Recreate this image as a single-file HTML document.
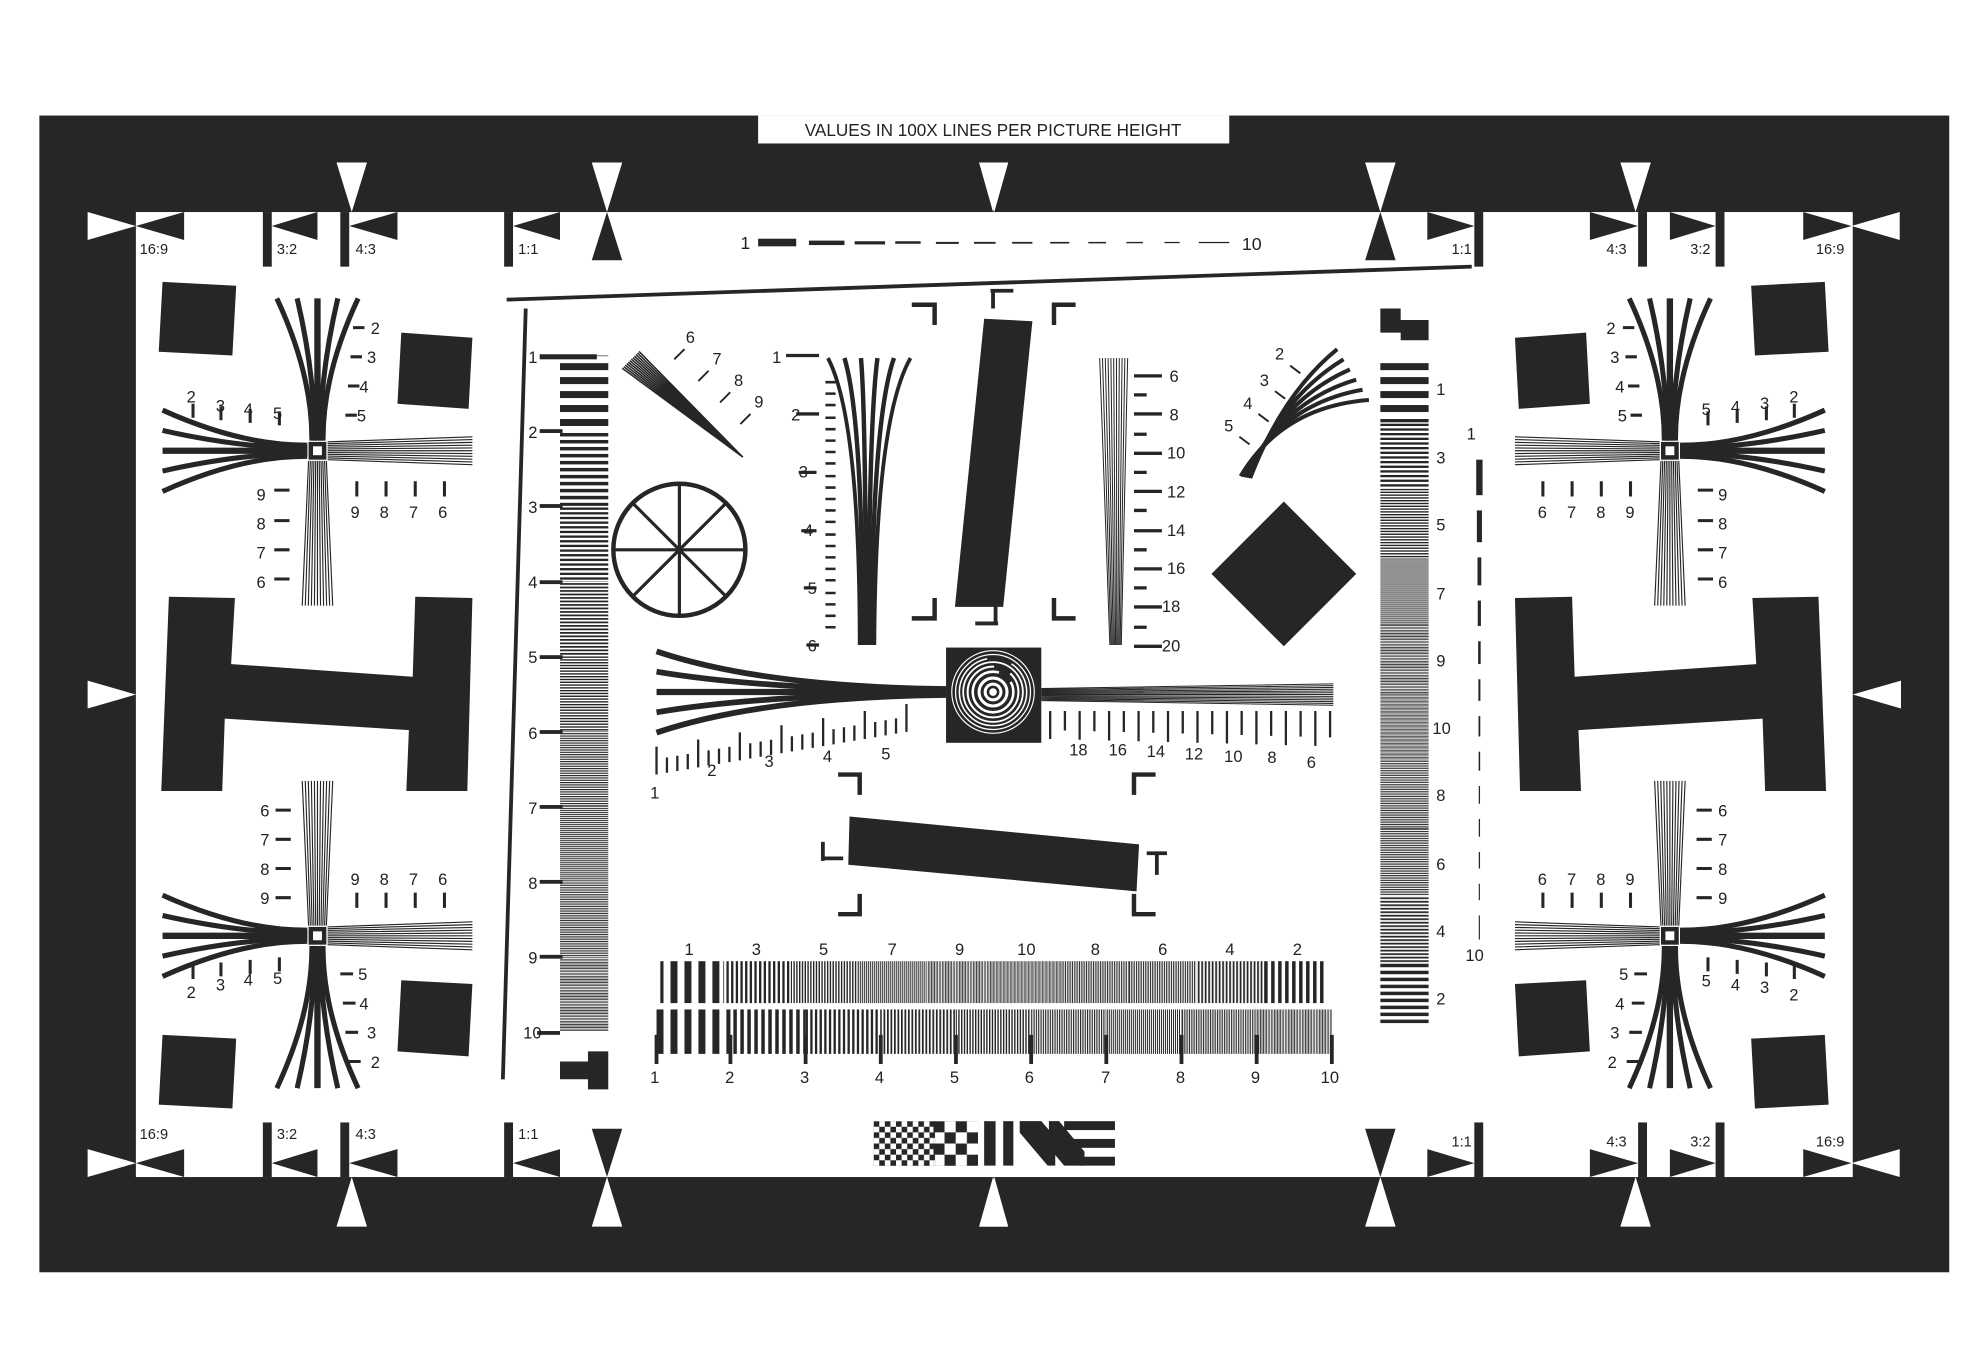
<!DOCTYPE html>
<html><head><meta charset="utf-8"><style>
html,body{margin:0;padding:0;background:#fff}
svg{display:block}
text{font-family:"Liberation Sans",sans-serif;fill:#222}
</style></head><body>
<svg width="1981" height="1351" viewBox="0 0 1560 1064" preserveAspectRatio="none" xmlns="http://www.w3.org/2000/svg">
<defs>
<pattern id="h1" width="4" height="11" patternUnits="userSpaceOnUse"><rect width="4" height="5.5" fill="#262626"/></pattern>
<pattern id="h2" width="4" height="5.5" patternUnits="userSpaceOnUse"><rect width="4" height="2.75" fill="#262626"/></pattern>
<pattern id="h3" width="4" height="3.667" patternUnits="userSpaceOnUse"><rect width="4" height="1.833" fill="#262626"/></pattern>
<pattern id="h4" width="4" height="2.75" patternUnits="userSpaceOnUse"><rect width="4" height="1.375" fill="#262626"/></pattern>
<pattern id="h5" width="4" height="2.2" patternUnits="userSpaceOnUse"><rect width="4" height="1.1" fill="#262626"/></pattern>
<pattern id="h6" width="4" height="1.833" patternUnits="userSpaceOnUse"><rect width="4" height="0.92" fill="#262626"/></pattern>
<pattern id="h7" width="4" height="1.571" patternUnits="userSpaceOnUse"><rect width="4" height="0.79" fill="#262626"/></pattern>
<pattern id="h8" width="4" height="1.375" patternUnits="userSpaceOnUse"><rect width="4" height="0.69" fill="#262626"/></pattern>
<pattern id="h9" width="4" height="1.222" patternUnits="userSpaceOnUse"><rect width="4" height="0.61" fill="#262626"/></pattern>
<pattern id="h10" width="4" height="1.1" patternUnits="userSpaceOnUse"><rect width="4" height="0.55" fill="#262626"/></pattern>
<pattern id="v1" width="11" height="4" patternUnits="userSpaceOnUse"><rect width="5.5" height="4" fill="#262626"/></pattern>
<pattern id="v2" width="5.5" height="4" patternUnits="userSpaceOnUse"><rect width="2.75" height="4" fill="#262626"/></pattern>
<pattern id="v3" width="3.667" height="4" patternUnits="userSpaceOnUse"><rect width="1.833" height="4" fill="#262626"/></pattern>
<pattern id="v4" width="2.75" height="4" patternUnits="userSpaceOnUse"><rect width="1.375" height="4" fill="#262626"/></pattern>
<pattern id="v5" width="2.2" height="4" patternUnits="userSpaceOnUse"><rect width="1.1" height="4" fill="#262626"/></pattern>
<pattern id="v6" width="1.833" height="4" patternUnits="userSpaceOnUse"><rect width="0.92" height="4" fill="#262626"/></pattern>
<pattern id="v7" width="1.571" height="4" patternUnits="userSpaceOnUse"><rect width="0.79" height="4" fill="#262626"/></pattern>
<pattern id="v8" width="1.375" height="4" patternUnits="userSpaceOnUse"><rect width="0.69" height="4" fill="#262626"/></pattern>
<pattern id="v9" width="1.222" height="4" patternUnits="userSpaceOnUse"><rect width="0.61" height="4" fill="#262626"/></pattern>
<pattern id="v10" width="1.1" height="4" patternUnits="userSpaceOnUse"><rect width="0.55" height="4" fill="#262626"/></pattern>
<pattern id="chk1" x="688" y="883" width="8.8" height="8.8" patternUnits="userSpaceOnUse"><rect width="4.4" height="4.4" fill="#262626"/><rect x="4.4" y="4.4" width="4.4" height="4.4" fill="#262626"/></pattern>
<pattern id="chk2" x="735" y="883" width="17.6" height="17.6" patternUnits="userSpaceOnUse"><rect width="8.8" height="8.8" fill="#262626"/><rect x="8.8" y="8.8" width="8.8" height="8.8" fill="#262626"/></pattern>
</defs>
<rect width="1560" height="1064" fill="#fff"/>
<rect x="31" y="91" width="1504" height="911" fill="#262626"/>
<rect x="107" y="167" width="1352" height="760" fill="#fff"/>
<rect x="597" y="91" width="371" height="22" fill="#fff"/>
<text x="782" y="107" font-size="13.5" text-anchor="middle">VALUES IN 100X LINES PER PICTURE HEIGHT</text>

<g id="topmarks" fill="#262626">
 <polygon points="69,167 107,178 69,189" fill="#fff"/>
 <polygon points="145,167 107,178 145,189"/>
 <rect x="207" y="167" width="7" height="43"/><polygon points="250,167 214,178 250,189"/>
 <rect x="268" y="167" width="7" height="43"/><polygon points="313,167 275,178 313,189"/>
 <polygon points="265,128 289,128 277,167" fill="#fff"/>
 <rect x="397" y="167" width="7" height="43"/><polygon points="441,167 404,178 441,189"/>
 <polygon points="466,128 490,128 478,167" fill="#fff"/>
 <polygon points="466,205 490,205 478,167"/>
 <polygon points="772,128 794,128 783,167" fill="#fff"/>
</g>
<use href="#topmarks" transform="translate(1565,0) scale(-1,1)"/>
<use href="#topmarks" transform="translate(0,1094) scale(1,-1)"/>
<use href="#topmarks" transform="translate(1565,1094) scale(-1,-1)"/>
<polygon points="69,536 107,547 69,558" fill="#fff"/>
<polygon points="1497,536 1459,547 1497,558" fill="#fff"/>

<g font-size="11.5">
<text x="110" y="200">16:9</text><text x="218" y="200">3:2</text><text x="280" y="200">4:3</text><text x="408" y="200">1:1</text>
<text x="1143" y="200">1:1</text><text x="1265" y="200">4:3</text><text x="1331" y="200">3:2</text><text x="1430" y="200">16:9</text>
<text x="110" y="897">16:9</text><text x="218" y="897">3:2</text><text x="280" y="897">4:3</text><text x="408" y="897">1:1</text>
<text x="1143" y="903">1:1</text><text x="1265" y="903">4:3</text><text x="1331" y="903">3:2</text><text x="1430" y="903">16:9</text>
</g>

<g id="leftside" fill="#262626">
 <polygon points="128,222 186,225 183,280 125,277"/>
 <polygon points="316,262 372,266 369,322 313,318"/>
 <polygon points="316,772 372,775 369,832 313,828"/>
 <polygon points="128,815 186,818 183,873 125,870"/>
 <polygon points="133,470 185,471 182,523 325,533 327,470 372,471 368,623 320,623 322,575 177,566 175,623 127,623"/>
 <g id="cross1">
  <rect x="243" y="348" width="14" height="14"/>
  <rect x="246.5" y="351.5" width="7" height="7" fill="#fff"/>
  <g fill="none" stroke="#262626" stroke-width="4">
   <path d="M218,235 Q246,295 245.6,347"/><path d="M234,235 Q248,295 247.8,347"/><path d="M250,235 Q250,295 250,347" stroke-width="5"/><path d="M266,235 Q252,295 252.2,347"/><path d="M282,235 Q254,295 254.4,347"/>
   <path d="M128,323 Q190,351 242,350.6"/><path d="M128,339 Q190,353 242,352.8"/><path d="M128,355 Q190,355 242,355" stroke-width="5"/><path d="M128,371 Q190,357 242,357.2"/><path d="M128,387 Q190,359 242,359.4"/>
  </g>
  <path stroke="#262626" stroke-width="0.9" fill="none" d="M258,348L372,344M258,349.4L372,346.2M258,350.8L372,348.4M258,352.2L372,350.6M258,353.6L372,352.8M258,355L372,355M258,356.4L372,357.2M258,357.8L372,359.4M258,359.2L372,361.6M258,360.6L372,363.8M258,362L372,366
  M243,363L238,477M244.4,363L240.4,477M245.8,363L242.8,477M247.2,363L245.2,477M248.6,363L247.6,477M250,363L250,477M251.4,363L252.4,477M252.8,363L254.8,477M254.2,363L257.2,477M255.6,363L259.6,477M257,363L262,477"/>
 </g>
 <use href="#cross1" transform="translate(0,1092) scale(1,-1)"/>
 <path stroke="#262626" stroke-width="2.4" fill="none" d="M278,258h9M276,281h9M274,304h9M272,327h9
 M152,318v11M174,320v11M197,322v11M220,324v11
 M216,386h12M216,410h12M216,433h12M216,456h12
 M281,379v12M304,379v12M327,379v12M350,379v12
 M217,638h12M217,661h12M217,684h12M217,707h12
 M281,703v12M304,703v12M327,703v12M350,703v12
 M152,760v11M174,758v11M197,756v11M220,754v11
 M268,767h10M270,790h10M272,813h10M274,836h10"/>
</g>
<use href="#leftside" transform="translate(1565,0) scale(-1,1)"/>

<g font-size="13">
<text x="292" y="263">2</text><text x="289" y="286">3</text><text x="283" y="309">4</text><text x="281" y="332">5</text>
<text x="147" y="317">2</text><text x="170" y="324">3</text><text x="192" y="327">4</text><text x="215" y="330">5</text>
<text x="202" y="394">9</text><text x="202" y="417">8</text><text x="202" y="440">7</text><text x="202" y="463">6</text>
<text x="276" y="408">9</text><text x="299" y="408">8</text><text x="322" y="408">7</text><text x="345" y="408">6</text>
<text x="205" y="643">6</text><text x="205" y="666">7</text><text x="205" y="689">8</text><text x="205" y="712">9</text>
<text x="276" y="697">9</text><text x="299" y="697">8</text><text x="322" y="697">7</text><text x="345" y="697">6</text>
<text x="147" y="786">2</text><text x="170" y="780">3</text><text x="192" y="776">4</text><text x="215" y="775">5</text>
<text x="282" y="772">5</text><text x="283" y="795">4</text><text x="289" y="818">3</text><text x="292" y="841">2</text>
<text x="1265" y="263">2</text><text x="1268" y="286">3</text><text x="1272" y="309">4</text><text x="1274" y="332">5</text>
<text x="1340" y="327">5</text><text x="1363" y="325">4</text><text x="1386" y="322">3</text><text x="1409" y="317">2</text>
<text x="1353" y="394">9</text><text x="1353" y="417">8</text><text x="1353" y="440">7</text><text x="1353" y="463">6</text>
<text x="1211" y="408">6</text><text x="1234" y="408">7</text><text x="1257" y="408">8</text><text x="1280" y="408">9</text>
<text x="1353" y="643">6</text><text x="1353" y="666">7</text><text x="1353" y="689">8</text><text x="1353" y="712">9</text>
<text x="1211" y="697">6</text><text x="1234" y="697">7</text><text x="1257" y="697">8</text><text x="1280" y="697">9</text>
<text x="1340" y="777">5</text><text x="1363" y="780">4</text><text x="1386" y="782">3</text><text x="1409" y="788">2</text>
<text x="1275" y="772">5</text><text x="1272" y="795">4</text><text x="1268" y="818">3</text><text x="1266" y="841">2</text>
</g>

<line x1="399" y1="236" x2="1159" y2="210" stroke="#262626" stroke-width="3"/>
<line x1="414" y1="243" x2="396" y2="850" stroke="#262626" stroke-width="3"/>

<!-- left vertical bar chart -->
<rect x="441" y="280" width="38" height="59.2" fill="url(#h1)"/>
<rect x="441" y="339.2" width="38" height="59.2" fill="url(#h2)"/>
<rect x="441" y="398.4" width="38" height="59.2" fill="url(#h3)"/>
<rect x="441" y="457.6" width="38" height="59.2" fill="url(#h4)"/>
<rect x="441" y="516.8" width="38" height="59.2" fill="url(#h5)"/>
<rect x="441" y="576" width="38" height="59.2" fill="url(#h6)"/>
<rect x="441" y="635.2" width="38" height="59.2" fill="url(#h7)"/>
<rect x="441" y="694.4" width="38" height="59.2" fill="url(#h8)"/>
<rect x="441" y="753.6" width="38" height="58.4" fill="url(#h9)"/>
<!-- right vertical bar chart -->
<rect x="1087" y="285" width="38" height="47.6" fill="url(#h1)"/>
<rect x="1087" y="332.6" width="38" height="53.3" fill="url(#h3)"/>
<rect x="1087" y="385.9" width="38" height="53.3" fill="url(#h5)"/>
<rect x="1087" y="439.2" width="38" height="53.3" fill="url(#h7)"/>
<rect x="1087" y="492.5" width="38" height="53.3" fill="url(#h9)"/>
<rect x="1087" y="545.8" width="38" height="53.3" fill="url(#h10)"/>
<rect x="1087" y="599.1" width="38" height="53.3" fill="url(#h8)"/>
<rect x="1087" y="652.4" width="38" height="53.3" fill="url(#h6)"/>
<rect x="1087" y="705.7" width="38" height="53.3" fill="url(#h4)"/>
<rect x="1087" y="759" width="38" height="49" fill="url(#h2)"/>
<!-- bottom row 1 -->
<rect x="520" y="757" width="49.6" height="33" fill="url(#v1)"/>
<rect x="569.6" y="757" width="53.2" height="33" fill="url(#v3)"/>
<rect x="622.8" y="757" width="53.2" height="33" fill="url(#v5)"/>
<rect x="676" y="757" width="53.2" height="33" fill="url(#v7)"/>
<rect x="729.2" y="757" width="53.2" height="33" fill="url(#v9)"/>
<rect x="782.4" y="757" width="53.2" height="33" fill="url(#v10)"/>
<rect x="835.6" y="757" width="53.2" height="33" fill="url(#v8)"/>
<rect x="888.8" y="757" width="53.2" height="33" fill="url(#v6)"/>
<rect x="942" y="757" width="53.2" height="33" fill="url(#v4)"/>
<rect x="995.2" y="757" width="49.8" height="33" fill="url(#v2)"/>
<!-- bottom row 2 -->
<rect x="516" y="795" width="59.2" height="35" fill="url(#v1)"/>
<rect x="575.2" y="795" width="59.2" height="35" fill="url(#v2)"/>
<rect x="634.4" y="795" width="59.2" height="35" fill="url(#v3)"/>
<rect x="693.6" y="795" width="59.2" height="35" fill="url(#v4)"/>
<rect x="752.8" y="795" width="59.2" height="35" fill="url(#v5)"/>
<rect x="812" y="795" width="59.2" height="35" fill="url(#v6)"/>
<rect x="871.2" y="795" width="59.2" height="35" fill="url(#v7)"/>
<rect x="930.4" y="795" width="59.2" height="35" fill="url(#v8)"/>
<rect x="989.6" y="795" width="59.4" height="35" fill="url(#v9)"/>

<g fill="#262626">
 <rect x="425" y="279" width="45" height="4"/>
 <rect x="425" y="338" width="18" height="3"/><rect x="425" y="397" width="18" height="3"/><rect x="425" y="457" width="18" height="3"/>
 <rect x="425" y="516" width="18" height="3"/><rect x="425" y="575" width="18" height="3"/><rect x="425" y="634" width="18" height="3"/>
 <rect x="425" y="693" width="18" height="3"/><rect x="425" y="752" width="18" height="3"/><rect x="423" y="812" width="18" height="3"/>
 <path d="M441,836h22v-8h16v30h-16v-8h-22z"/>
 <path d="M1087,243h16v9h22v16h-22v-6h-16z"/>
 <polygon points="775,251 813,253 790,478 752,478"/>
 <polygon points="669,643 897,665 895,702 668,681"/>
 <polygon points="1011,395 1068,452 1011,509 954,452"/>
 <rect x="745" y="510" width="75" height="75"/>
 <rect x="597" y="188" width="30" height="6"/>
 <rect x="637" y="189.5" width="28" height="3.5"/><rect x="673" y="190" width="24" height="2.5"/><rect x="705" y="190" width="20" height="2"/>
 <rect x="737" y="190.5" width="18" height="1.6"/><rect x="767" y="190.5" width="17" height="1.5"/><rect x="797" y="190.5" width="16" height="1.4"/>
 <rect x="827" y="190.5" width="15" height="1.3"/><rect x="857" y="190.5" width="14" height="1.2"/><rect x="887" y="190.5" width="13" height="1.1"/>
 <rect x="917" y="190.5" width="12" height="1"/><rect x="944" y="190.5" width="24" height="1"/>
 <rect x="1162.5" y="362" width="5" height="28"/><rect x="1163" y="402" width="4" height="25"/><rect x="1163.5" y="439" width="3" height="22"/>
 <rect x="1163.7" y="473" width="2.5" height="20"/><rect x="1164" y="505" width="2" height="18"/><rect x="1164.2" y="535" width="1.6" height="17"/>
 <rect x="1164.3" y="564" width="1.4" height="16"/><rect x="1164.4" y="592" width="1.2" height="15"/><rect x="1164.5" y="619" width="1" height="14"/>
 <rect x="1164.5" y="645" width="1" height="14"/><rect x="1164.5" y="671" width="1" height="13"/><rect x="1164.5" y="696" width="0.9" height="13"/>
 <rect x="1164.5" y="721" width="0.9" height="19"/>
</g>
<path stroke="#262626" stroke-width="3" fill="none" d="M517,815v23M575.2,815v23M634.4,815v23M693.6,815v23M752.8,815v23M812,815v23M871.2,815v23M930.4,815v23M989.6,815v23M1048.8,815v23"/>

<circle cx="535" cy="433" r="52" fill="none" stroke="#262626" stroke-width="3.5"/>
<g stroke="#262626" stroke-width="2.5">
 <line x1="483" y1="433" x2="587" y2="433"/><line x1="535" y1="381" x2="535" y2="485"/>
 <line x1="498" y1="396" x2="572" y2="470"/><line x1="572" y1="396" x2="498" y2="470"/>
</g>

<!-- brackets and T marks -->
<path stroke="#262626" stroke-width="3.5" fill="none" d="M718,240H736V256M847,240H830V256M718,487H736V471M847,487H830V471
M660,610H677V626M910,610H893V626M660,720H677V704M910,720H893V704"/>
<path stroke="#262626" stroke-width="3" fill="none" d="M780,229h18M782,229v14M768,491h18M784,491v-14M648,663v15M648,676h16M903,672h16M911,672v17"/>

<!-- vertical wedges -->
<g fill="none" stroke="#262626" stroke-width="3.5">
 <path d="M652,282 Q677,330 677,508" stroke-width="3"/><path d="M665,282 Q679.5,330 679.3,508"/><path d="M678,282 Q682,330 681.6,508"/>
 <path d="M691,282 Q684.5,330 683.9,508"/><path d="M704,282 Q687,330 686.2,508"/><path d="M717,282 Q689.5,330 688.5,508" stroke-width="3"/>
</g>
<path stroke="#262626" stroke-width="0.8" fill="none" d="M866,282L874,508M868.2,282L874.9,508M870.4,282L875.8,508M872.6,282L876.7,508M874.8,282L877.6,508M877,282L878.5,508M879.2,282L879.4,508M881.4,282L880.3,508M883.6,282L881.2,508M885.8,282L882.1,508M888,282L883,508"/>
<path stroke="#262626" stroke-width="2.6" fill="none" d="M619,280h26M627,326h18M629,372h14M631,418h12M633,463h10M635,508h10"/>
<path stroke="#262626" stroke-width="2" fill="none" d="M650,301h8M650,310h8M650,319h8M650,329h8M650,338h8M650,347h8M650,356h8M650,365h8M650,375h8M650,384h8M650,393h8M650,402h8M650,411h8M650,421h8M650,430h8M650,439h8M650,448h8M650,457h8M650,467h8M650,476h8M650,485h8M650,494h8"/>
<path stroke="#262626" stroke-width="2.6" fill="none" d="M893,296h22M893,311h10M893,326h22M893,342h10M893,357h22M893,372h10M893,387h22M893,402h10M893,418h22M893,433h10M893,448h22M893,463h10M893,478h22M893,494h10M893,509h22"/>

<!-- horizontal wedges -->
<g fill="none" stroke="#262626" stroke-width="4.5">
 <path d="M517,513 Q600,541 745,542.6"/><path d="M517,529 Q600,543 745,543.8"/><path d="M517,545 Q600,545 745,545" stroke-width="5"/>
 <path d="M517,561 Q600,547 745,546.2"/><path d="M517,577 Q600,549 745,547.4"/>
</g>
<path stroke="#262626" stroke-width="0.8" fill="none" d="M820,542.2L1050,538.6M820,543L1050,540M820,543.8L1050,541.4M820,544.6L1050,542.8M820,545.4L1050,544.2M820,546.2L1050,545.6M820,547L1050,547M820,547.8L1050,548.4M820,548.6L1050,549.8M820,549.4L1050,551.2M820,550.2L1050,552.6M820,551L1050,554M820,551.8L1050,555.4"/>
<path stroke="#262626" stroke-width="1.8" fill="none" d="M517,588v22M525.2,596.6v12M533.4,595.2v12M541.6,593.8v12M549.8,582.4v22M558,591v12M566.2,589.6v12M574.4,588.2v12M582.6,576.8v22M590.8,585.4v12M599,584v12M607.2,582.6v12M615.4,571.2v22M623.6,579.8v12M631.8,578.4v12M640,577v12M648.2,565.6v22M656.4,574.2v12M664.6,572.8v12M672.8,571.4v12M681,560v22M689.2,568.6v12M697.4,567.2v12M705.6,565.8v12M713.8,554.4v22
M827,560v22M838.6,560v15.3M850.2,560v22.6M861.8,560v15.9M873.4,560v23.2M885,560v16.5M896.6,560v23.8M908.2,560v17.1M919.8,560v24.4M931.4,560v17.7M943,560v25M954.6,560v18.3M966.2,560v25.6M977.8,560v18.9M989.4,560v26.2M1001,560v19.5M1012.6,560v26.8M1024.2,560v20.1M1035.8,560v27.4M1047.4,560v20.7"/>

<!-- zone plate -->
<g fill="none" stroke="#fff">
 <circle cx="782" cy="545" r="6.2" stroke-width="2.4"/><circle cx="782" cy="545" r="11" stroke-width="2.4"/>
 <circle cx="782" cy="545" r="16" stroke-width="2" stroke-dasharray="80 12"/><circle cx="782" cy="545" r="20" stroke-width="1.6" stroke-dasharray="95 14"/>
 <circle cx="782" cy="545" r="23.5" stroke-width="1.4"/><circle cx="782" cy="545" r="26.5" stroke-width="1.2" stroke-dasharray="120 20"/>
 <circle cx="782" cy="545" r="29.5" stroke-width="1"/><circle cx="782" cy="545" r="32.5" stroke-width="0.9"/>
</g>
<circle cx="782" cy="545" r="3" fill="#fff"/>

<!-- diagonal fans -->
<path stroke="#262626" stroke-width="1.2" fill="none" d="M490,290L585,360M491.2,288.8L585,360M492.4,287.6L585,360M493.6,286.4L585,360M494.8,285.2L585,360M496,284L585,360M497.2,282.8L585,360M498.4,281.6L585,360M499.6,280.4L585,360M500.8,279.2L585,360M502,278L585,360M503.2,276.8L585,360"/>
<g fill="none" stroke="#262626" stroke-width="3.2">
 <path d="M1078,315 Q1010,320 977,375"/><path d="M1073,307 Q1010,318 978.5,375.3"/><path d="M1068,299 Q1010,316 980,375.6"/>
 <path d="M1063,291 Q1010,314 981.5,375.9"/><path d="M1058,283 Q1010,312 983,376.2"/><path d="M1053,275 Q1010,310 984.5,376.5"/>
</g>
<path stroke="#262626" stroke-width="1.5" fill="none" d="M539,275l-8,8M558,292l-8,8M575,309l-8,8M591,326l-8,8M1016,288l8,6M1004,308l8,6M991,326l8,6M976,344l8,6"/>

<!-- logo -->
<rect x="688" y="883" width="48.4" height="35.2" fill="url(#chk1)"/>
<rect x="735" y="883" width="35.2" height="35.2" fill="url(#chk2)"/>
<g fill="#262626">
 <rect x="775" y="883" width="9" height="35"/><rect x="790" y="883" width="8" height="35"/>
 <path d="M803,883h8l20,24v11h-6l-22,-26z M811,883h9l26,30v5h-8l-27,-32z M826,883h8l20,24v11h-8l-20,-24z"/>
 <rect x="838" y="883" width="40" height="7"/><rect x="845" y="897" width="33" height="7"/><rect x="850" y="911" width="28" height="7"/>
</g>

<g font-size="13">
<text x="583" y="196" font-size="14">1</text><text x="978" y="197" font-size="14">10</text>
<text x="416" y="286">1</text><text x="416" y="345">2</text><text x="416" y="404">3</text><text x="416" y="463">4</text><text x="416" y="522">5</text>
<text x="416" y="582">6</text><text x="416" y="641">7</text><text x="416" y="700">8</text><text x="416" y="759">9</text><text x="412" y="818">10</text>
<text x="1131" y="311">1</text><text x="1131" y="365">3</text><text x="1131" y="418">5</text><text x="1131" y="472">7</text><text x="1131" y="525">9</text>
<text x="1128" y="578">10</text><text x="1131" y="631">8</text><text x="1131" y="685">6</text><text x="1131" y="738">4</text><text x="1131" y="791">2</text>
<text x="1155" y="346">1</text><text x="1154" y="757">10</text>
<text x="540" y="270">6</text><text x="561" y="287">7</text><text x="578" y="304">8</text><text x="594" y="321">9</text>
<text x="1004" y="283">2</text><text x="992" y="304">3</text><text x="979" y="322">4</text><text x="964" y="340">5</text>
<text x="608" y="286">1</text><text x="623" y="331">2</text><text x="629" y="376">3</text><text x="633" y="422">4</text><text x="636" y="468">5</text><text x="636" y="513">6</text>
<text x="921" y="301">6</text><text x="921" y="331">8</text><text x="919" y="361">10</text><text x="919" y="392">12</text><text x="919" y="422">14</text><text x="919" y="452">16</text><text x="915" y="482">18</text><text x="915" y="513">20</text>
<text x="512" y="629">1</text><text x="557" y="611">2</text><text x="602" y="604">3</text><text x="648" y="600">4</text><text x="694" y="598">5</text>
<text x="842" y="595">18</text><text x="873" y="595">16</text><text x="903" y="596">14</text><text x="933" y="598">12</text><text x="964" y="600">10</text><text x="998" y="601">8</text><text x="1029" y="605">6</text>
<text x="539" y="752">1</text><text x="592" y="752">3</text><text x="645" y="752">5</text><text x="699" y="752">7</text><text x="752" y="752">9</text>
<text x="801" y="752">10</text><text x="859" y="752">8</text><text x="912" y="752">6</text><text x="965" y="752">4</text><text x="1018" y="752">2</text>
<text x="512" y="853">1</text><text x="571" y="853">2</text><text x="630" y="853">3</text><text x="689" y="853">4</text><text x="748" y="853">5</text>
<text x="807" y="853">6</text><text x="867" y="853">7</text><text x="926" y="853">8</text><text x="985" y="853">9</text><text x="1040" y="853">10</text>
</g>
</svg>
</body></html>
